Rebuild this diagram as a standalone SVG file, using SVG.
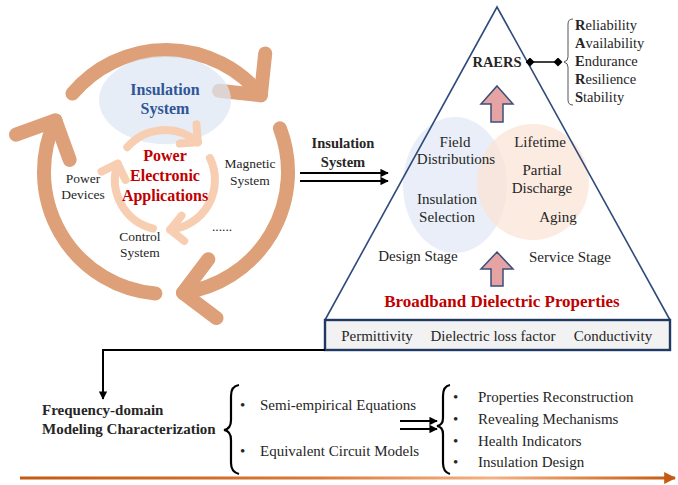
<svg xmlns="http://www.w3.org/2000/svg" width="678" height="485" viewBox="0 0 678 485">
  <defs>
    <style>
      text { font-family: "Liberation Serif", "Times New Roman", serif; fill: #262626; }
      .c { text-anchor: middle; }
      .b { font-weight: bold; }
      .outer { fill: none; stroke: #dda078; stroke-width: 14; stroke-linecap: round; stroke-linejoin: round; }
      .inner { fill: none; stroke: #f7ceb2; stroke-width: 8; stroke-linecap: round; stroke-linejoin: round; }
      .tri { fill: none; stroke: #2f4b7c; stroke-width: 1.6; }
      .up { fill: #e6a3a3; stroke: #3a4f7a; stroke-width: 1.5; stroke-linejoin: miter; }
      .wire { fill: none; stroke: #000; stroke-width: 2; }
      .brace { fill: none; stroke: #000; stroke-width: 2.2; }
      .t13 { font-size: 13.5px; }
      .t15 { font-size: 15px; }
    </style>
    <marker id="tipBlack" viewBox="0 0 10 10" refX="9" refY="5" markerWidth="4.2" markerHeight="4.2" orient="auto" markerUnits="strokeWidth">
      <path d="M0,0 L10,5 L0,10 Z" fill="#000"/>
    </marker>
    <marker id="tipOrange" viewBox="0 0 10 10" refX="9" refY="5" markerWidth="4" markerHeight="4" orient="auto" markerUnits="strokeWidth">
      <path d="M0,0 L10,5 L0,10 Z" fill="#c55a11"/>
    </marker>
    <marker id="dia" viewBox="0 0 10 10" refX="5" refY="5" markerWidth="6" markerHeight="6" orient="auto" markerUnits="strokeWidth">
      <path d="M0,5 L5,0 L10,5 L5,10 Z" fill="#000"/>
    </marker>
    <linearGradient id="timeline" gradientUnits="userSpaceOnUse" x1="20" y1="478" x2="675" y2="478">
      <stop offset="0" stop-color="#c55a11"/>
      <stop offset="0.45" stop-color="#d9793a"/>
      <stop offset="0.72" stop-color="#f4b183"/>
      <stop offset="1" stop-color="#c55a11"/>
    </linearGradient>
  </defs>

  <!-- application cycle -->
  <g id="cycle-outer">
    <path class="outer" d="M72.5,93.6 A122,122 0 0 1 260.8,95.2"/>
    <path class="outer" d="M265.2,53.4 L260.8,95.2 L219.1,90.8"/>
    <path class="outer" d="M279.9,128.3 A122,122 0 0 1 183,292.8"/>
    <path class="outer" d="M216.5,318.1 L183,292.8 L208.3,259.3"/>
    <path class="outer" d="M155.4,293.5 A122,122 0 0 1 55.4,120.4"/>
    <path class="outer" d="M15.9,134.7 L55.4,120.4 L69.7,159.9"/>
  </g>

  <g id="insulation-system">
    <ellipse cx="165" cy="100" rx="66" ry="44" fill="#dce6f2" opacity="0.72"/>
    <text class="c b" x="165" y="95" style="font-size:16px;fill:#2f5597">Insulation</text>
    <text class="c b" x="165" y="114" style="font-size:16px;fill:#2f5597">System</text>
  </g>

  <g id="cycle-inner">
    <path class="inner" d="M127.3,147.2 A50,50 0 0 1 197.8,142.3"/>
    <path class="inner" d="M196.5,124.3 L197.8,142.3 L179.8,143.6"/>
    <path class="inner" d="M209.9,158.1 A50,50 0 0 1 170.2,229.7"/>
    <path class="inner" d="M184.2,241 L170.2,229.7 L181.5,215.7"/>
    <path class="inner" d="M152.9,228.5 A50,50 0 0 1 117.7,163.7"/>
    <path class="inner" d="M101.5,171.6 L117.7,163.7 L125.6,179.9"/>
  </g>

  <g id="power-electronic-applications">
    <text class="c b" x="165" y="161" style="font-size:16px;fill:#c00000">Power</text>
    <text class="c b" x="165" y="181" style="font-size:16px;fill:#c00000">Electronic</text>
    <text class="c b" x="165" y="201" style="font-size:16px;fill:#c00000">Applications</text>
  </g>
  <g id="power-devices">
    <text class="c t13" x="83" y="183">Power</text>
    <text class="c t13" x="83" y="199">Devices</text>
  </g>
  <g id="magnetic-system">
    <text class="c t13" x="250" y="168">Magnetic</text>
    <text class="c t13" x="250" y="185">System</text>
  </g>
  <g id="control-system">
    <text class="c t13" x="140" y="241">Control</text>
    <text class="c t13" x="140" y="257">System</text>
  </g>
  <g id="more-systems">
    <text class="c t13" x="222" y="231">......</text>
  </g>

  <!-- link label -->
  <g id="insulation-label">
    <text class="c b" x="343" y="148" style="font-size:14.5px">Insulation</text>
    <text class="c b" x="343" y="167" style="font-size:14.5px">System</text>
  </g>

  <!-- pyramid -->
  <g id="pyramid">
    <ellipse cx="455" cy="185" rx="52" ry="68" fill="#dae3f3" opacity="0.6"/>
    <ellipse cx="533" cy="182" rx="56" ry="58" fill="#fbe2d3" opacity="0.7"/>
    <path class="tri" d="M325,320 L497,7 L670,320"/>
    <polygon class="up" points="497,86 513,104 503,104 503,122 491,122 491,104 481,104"/>
    <polygon class="up" points="497,252 513,269 503,269 503,286 491,286 491,269 481,269"/>
  </g>
  <g id="raers">
    <text class="c b" x="497" y="67" style="font-size:14.5px">RAERS</text>
  </g>
  <g id="design-stage">
    <text class="c t15" x="455" y="147">Field</text>
    <text class="c t15" x="456" y="164">Distributions</text>
    <text class="c t15" x="447" y="204">Insulation</text>
    <text class="c t15" x="447" y="222">Selection</text>
    <text class="c t15" x="418" y="261">Design Stage</text>
  </g>
  <g id="service-stage">
    <text class="c t15" x="540" y="147">Lifetime</text>
    <text class="c t15" x="542" y="175">Partial</text>
    <text class="c t15" x="542" y="193">Discharge</text>
    <text class="c t15" x="558" y="222">Aging</text>
    <text class="c t15" x="570" y="262">Service Stage</text>
  </g>
  <g id="broadband-properties">
    <text class="c b" x="502" y="307" style="font-size:17px;fill:#c00000">Broadband Dielectric Properties</text>
  </g>
  <g id="property-bar">
    <rect x="325" y="320" width="345" height="30" fill="#f2f2f2" stroke="#1f3864" stroke-width="2.4"/>
    <text class="c t15" x="377" y="341">Permittivity</text>
    <text class="c t15" x="493" y="341">Dielectric loss factor</text>
    <text class="c t15" x="613" y="341">Conductivity</text>
  </g>

  <g id="raers-list">
    <path d="M573,19 Q568,19 568,24 L568,57 Q568,61 564,62 Q568,63 568,67 L568,100 Q568,105 573,105" fill="none" stroke="#555" stroke-width="1"/>
    <text class="t15" x="575" y="30" style="font-size:14.5px"><tspan class="b">R</tspan>eliability</text>
    <text class="t15" x="575" y="48" style="font-size:14.5px"><tspan class="b">A</tspan>vailability</text>
    <text class="t15" x="575" y="66" style="font-size:14.5px"><tspan class="b">E</tspan>ndurance</text>
    <text class="t15" x="575" y="84" style="font-size:14.5px"><tspan class="b">R</tspan>esilience</text>
    <text class="t15" x="575" y="102" style="font-size:14.5px"><tspan class="b">S</tspan>tability</text>
  </g>

  <!-- frequency-domain modelling -->
  <g id="modeling">
    <text class="b" x="42" y="415" style="font-size:15px">Frequency-domain</text>
    <text class="b" x="42" y="434" style="font-size:15px">Modeling Characterization</text>
  </g>
  <g id="model-types">
    <path class="brace" d="M239,385 Q231,386 231,396 L231,420 Q231,429 224,430 Q231,431 231,440 L231,463 Q231,472 239,474"/>
    <text class="t15" x="240" y="410">•</text>
    <text class="t15" x="260" y="410">Semi-empirical Equations</text>
    <text class="t15" x="240" y="456">•</text>
    <text class="t15" x="260" y="456">Equivalent Circuit Models</text>
  </g>
  <g id="applications">
    <path class="brace" d="M450,385 Q443,386 443,396 L443,418 Q443,425 437,426 Q443,427 443,434 L443,463 Q443,472 450,474"/>
    <text class="t15" x="453" y="402">•</text>
    <text class="t15" x="478" y="402">Properties Reconstruction</text>
    <text class="t15" x="453" y="424">•</text>
    <text class="t15" x="478" y="424">Revealing Mechanisms</text>
    <text class="t15" x="453" y="446">•</text>
    <text class="t15" x="478" y="446">Health Indicators</text>
    <text class="t15" x="453" y="467">•</text>
    <text class="t15" x="478" y="467">Insulation Design</text>
  </g>

  <g id="connectors">
    <line class="wire" x1="300" y1="173" x2="388" y2="173" marker-end="url(#tipBlack)"/>
    <line class="wire" x1="300" y1="181" x2="388" y2="181" marker-end="url(#tipBlack)"/>
    <line x1="530" y1="62" x2="558" y2="62" stroke="#000" stroke-width="1.5" marker-start="url(#dia)" marker-end="url(#dia)"/>
    <path class="wire" d="M325,350 H103 V399" stroke-width="1.8" marker-end="url(#tipBlack)"/>
    <line class="wire" x1="400" y1="421" x2="437" y2="421" marker-end="url(#tipBlack)"/>
    <line class="wire" x1="400" y1="429" x2="437" y2="429" marker-end="url(#tipBlack)"/>
    <line x1="20" y1="478" x2="675" y2="478" stroke="url(#timeline)" stroke-width="3" marker-end="url(#tipOrange)"/>
  </g>
</svg>
